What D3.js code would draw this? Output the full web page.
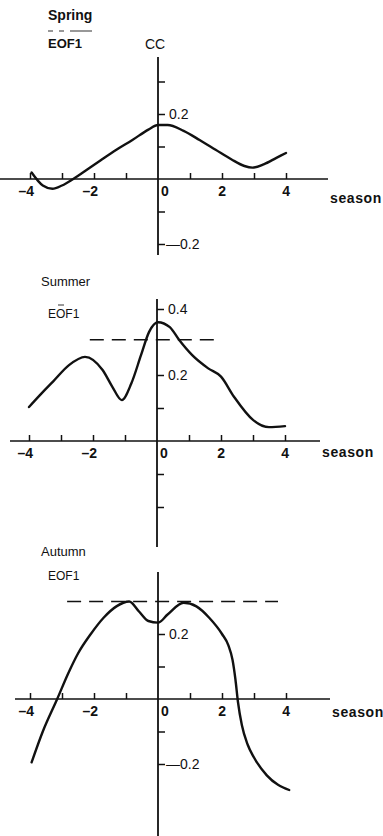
<!DOCTYPE html>
<html>
<head>
<meta charset="utf-8">
<script src="https://cdn.jsdelivr.net/npm/d3@7"></script>
<style>
  body { margin: 0; background: #fff; }
  text { font-family: "Liberation Sans", Arial, sans-serif; fill: #111; }
</style>
</head>
<body>
<div id="canvas"></div>
<script>
// DATA
const xTicks = [-4, -3, -2, -1, 0, 1, 2, 3, 4];
const xTickLabels = [-4, -2, 0, 2, 4];

const springX  = [-3.95, -3.6, -3.3, -3.0, -2.65, -2.2, -1.8, -1.3, -0.8, -0.3, 0, 0.3, 0.8, 1.3, 1.8, 2.3, 2.7, 2.95, 3.3, 3.7, 4.0];
const springCC = [0.02, -0.02, -0.03, -0.02, 0, 0.03, 0.057, 0.09, 0.12, 0.152, 0.166, 0.166, 0.148, 0.12, 0.09, 0.06, 0.04, 0.035, 0.045, 0.065, 0.08];
const springYTicks = [0.3, 0.2, 0.1, -0.1, -0.2];
const springYLabels = [0.2, -0.2];

const summerX  = [-4.0, -3.6, -3.25, -2.75, -2.25, -1.7, -1.4, -1.1, -0.8, -0.5, -0.25, 0.03, 0.4, 0.7, 1.1, 1.6, 2.0, 2.4, 3.0, 3.5, 4.0];
const summerCC = [0.103, 0.145, 0.18, 0.23, 0.255, 0.215, 0.165, 0.124, 0.175, 0.26, 0.33, 0.36, 0.345, 0.305, 0.26, 0.22, 0.195, 0.135, 0.064, 0.042, 0.045];
const summerYTicks = [0.4, 0.2, 0.1, -0.1, -0.2];
const summerYLabels = [0.4, 0.2];
const summerSig = { x: [-2.1, 2.0], cc: 0.307 };

const autumnX  = [-3.95, -3.6, -3.15, -2.8, -2.5, -2.1, -1.7, -1.3, -0.9, -0.6, -0.3, 0, 0.3, 0.8, 1.2, 1.6, 2.0, 2.2, 2.33, 2.42, 2.5, 2.62, 2.8, 3.0, 3.4, 4.1];
const autumnCC = [-0.195, -0.1, 0, 0.08, 0.14, 0.2, 0.25, 0.285, 0.30, 0.27, 0.24, 0.235, 0.26, 0.296, 0.285, 0.25, 0.2, 0.165, 0.12, 0.06, -0.01, -0.08, -0.14, -0.18, -0.235, -0.28];
const autumnYTicks = [0.2, 0.1, -0.1, -0.2];
const autumnYLabels = [0.2, -0.2];
const autumnSig = { x: [-2.84, 3.75], cc: 0.30 };

// LAYOUT (pixels)
const panels = [
  { title: "Spring", titleBold: true, titleY: 20, eofY: 48, eofBold: true, legendDash: true,
    x0: 158, y0: 179, unit: 32, per01: 32.5, xLeft: 0, xRight: 328, yTop: 57, yBottom: 255,
    seasonDy: 24, cc: true,
    xs: springX, ys: springCC, yTicks: springYTicks, yLabels: springYLabels, sig: null },
  { title: "Summer", titleBold: false, titleY: 286, eofY: 318, eofBold: false, overbar: true,
    x0: 157, y0: 441, unit: 32, per01: 33, xLeft: 10, xRight: 320, yTop: 299, yBottom: 547,
    seasonDy: 16,
    xs: summerX, ys: summerCC, yTicks: summerYTicks, yLabels: summerYLabels, sig: summerSig },
  { title: "Autumn", titleBold: false, titleY: 556, eofY: 580, eofBold: false,
    x0: 158, y0: 699, unit: 32, per01: 32.5, xLeft: 15, xRight: 330, yTop: 572, yBottom: 836,
    seasonDy: 18,
    xs: autumnX, ys: autumnCC, yTicks: autumnYTicks, yLabels: autumnYLabels, sig: autumnSig }
];

const width = 383, height = 836;

const svg = d3.select("#canvas").append("svg")
  .attr("width", width)
  .attr("height", height)
  .style("background", "#fff");

panels.forEach(p => {
  const x = d3.scaleLinear().domain([0, 4]).range([p.x0, p.x0 + 4 * p.unit]);
  const y = d3.scaleLinear().domain([0, 0.1]).range([p.y0, p.y0 - p.per01]);
  const g = svg.append("g");

  // axis lines
  g.append("line")
    .attr("x1", p.xLeft).attr("x2", p.xRight)
    .attr("y1", y(0)).attr("y2", y(0))
    .attr("stroke", "#111").attr("stroke-width", 1.6);
  g.append("line")
    .attr("x1", x(0)).attr("x2", x(0))
    .attr("y1", p.yTop).attr("y2", p.yBottom)
    .attr("stroke", "#111").attr("stroke-width", 1.8);

  // x ticks (upward)
  const xa = g.append("g")
    .attr("transform", `translate(0,${y(0)})`)
    .call(d3.axisTop(x).tickValues(xTicks.filter(d => d !== 0)).tickSize(6).tickFormat(""));
  xa.select(".domain").remove();
  xa.selectAll("line").attr("stroke", "#111").attr("stroke-width", 1.5);

  // y ticks (to the right)
  const ya = g.append("g")
    .attr("transform", `translate(${x(0)},0)`)
    .call(d3.axisRight(y).tickValues(p.yTicks).tickSize(7).tickFormat(""));
  ya.select(".domain").remove();
  ya.selectAll("line").attr("stroke", "#111").attr("stroke-width", 1.5);

  // x tick labels: digit centred on tick, minus to its left
  g.selectAll("text.xl")
    .data(xTickLabels)
    .join("text")
    .attr("class", "xl")
    .attr("x", d => d === 0 ? x(d) + 3 : x(d) + 4)
    .attr("y", y(0) + 17)
    .attr("text-anchor", d => d === 0 ? "start" : "end")
    .style("font-size", "14px")
    .style("font-weight", "bold")
    .text(d => d < 0 ? "\u2013" + Math.abs(d) : d);

  // y tick labels
  g.selectAll("text.yl")
    .data(p.yLabels)
    .join("text")
    .attr("class", "yl")
    .attr("x", d => d < 0 ? x(0) + 8 : x(0) + 11)
    .attr("y", d => y(d) + 5)
    .style("font-size", "14px")
    .text(d => d < 0 ? "\u2014" + Math.abs(d).toFixed(1) : d.toFixed(1));

  // axis name
  g.append("text")
    .attr("x", p.xRight + 2)
    .attr("y", y(0) + p.seasonDy)
    .style("font-size", "14px")
    .style("font-weight", "bold")
    .style("letter-spacing", "0.6px")
    .text("season");

  // titles
  g.append("text")
    .attr("x", p.title === "Spring" ? 48 : 41)
    .attr("y", p.titleY)
    .style("font-size", p.titleBold ? "14px" : "13px")
    .style("font-weight", p.titleBold ? "bold" : "normal")
    .text(p.title);
  g.append("text")
    .attr("x", 48)
    .attr("y", p.eofY)
    .style("font-size", p.eofBold ? "13px" : "12px")
    .style("font-weight", p.eofBold ? "bold" : "normal")
    .text("EOF1");

  if (p.legendDash) {
    g.append("line")
      .attr("x1", 48).attr("x2", 92).attr("y1", 31).attr("y2", 31)
      .attr("stroke", "#333").attr("stroke-width", 1.2)
      .attr("stroke-dasharray", "5,6,5,6,22");
  }
  if (p.overbar) {
    g.append("line")
      .attr("x1", 58).attr("x2", 64).attr("y1", p.eofY - 13).attr("y2", p.eofY - 13)
      .attr("stroke", "#333").attr("stroke-width", 1);
  }
  if (p.cc) {
    g.append("text")
      .attr("x", x(0) - 3)
      .attr("y", 49)
      .attr("text-anchor", "middle")
      .style("font-size", "14px")
      .text("CC");
  }

  // significance line
  if (p.sig) {
    g.append("line")
      .attr("x1", x(p.sig.x[0])).attr("x2", x(p.sig.x[1]))
      .attr("y1", y(p.sig.cc)).attr("y2", y(p.sig.cc))
      .attr("stroke", "#111").attr("stroke-width", 1.6)
      .attr("stroke-dasharray", "14,8");
  }

  // curve
  const pts = p.xs.map((d, i) => [d, p.ys[i]]);
  const line = d3.line()
    .x(d => x(d[0]))
    .y(d => y(d[1]))
    .curve(d3.curveMonotoneX);
  g.append("path")
    .datum(pts)
    .attr("d", line)
    .attr("fill", "none")
    .attr("stroke", "#111")
    .attr("stroke-width", 2.4)
    .attr("stroke-linecap", "round");
});
</script>
</body>
</html>
